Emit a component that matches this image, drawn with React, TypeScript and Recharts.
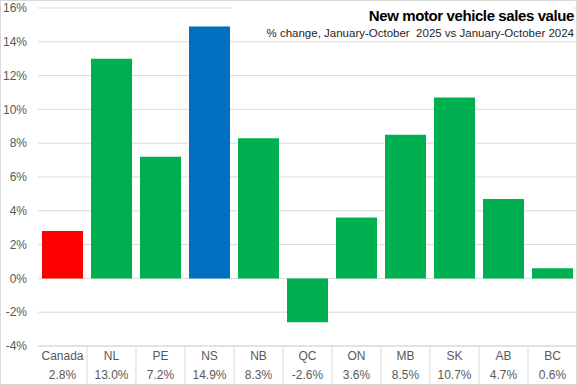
import { BarChart, Bar, XAxis, YAxis, CartesianGrid, Cell } from 'recharts';

// Jan-Oct 2025 vs Jan-Oct 2024, % change in new motor vehicle sales value
const regions = ['Canada', 'NL', 'PE', 'NS', 'NB', 'QC', 'ON', 'MB', 'SK', 'AB', 'BC'];
const changes = [2.8, 13.0, 7.2, 14.9, 8.3, -2.6, 3.6, 8.5, 10.7, 4.7, 0.6];
const yTicks = [-4, -2, 0, 2, 4, 6, 8, 10, 12, 14, 16];

const data = regions.map((region, i) => ({ region, change: changes[i] }));

const barColor = (region: string) => {
  if (region === 'Canada') return '#FF0000';
  if (region === 'NS') return '#0070C0';
  return '#00B050';
};

const labelFont = 'Arial, "Liberation Sans", sans-serif';

const RegionTick = (props: any) => {
  const { x, y, payload, index } = props;
  const value = changes[index];
  return (
    <g>
      <text x={x} y={y + 14} textAnchor="middle" fontSize={12} fill="#595959" fontFamily={labelFont}>
        {payload.value}
      </text>
      <text x={x} y={y + 33} textAnchor="middle" fontSize={12} fill="#595959" fontFamily={labelFont}>
        {value.toFixed(1)}%
      </text>
      <line x1={x + 24.5} x2={x + 24.5} y1={y} y2={y + 40} stroke="#d9d9d9" />
    </g>
  );
};

export default function App() {
  return (
    <div style={{ position: 'absolute', left: 0, top: 0, width: 577, height: 385, background: '#fff' }}>
      <BarChart
        width={577}
        height={385}
        data={data}
        margin={{ top: 8, right: 0, bottom: 0, left: 0 }}
        barCategoryGap={4}
      >
        <CartesianGrid vertical={false} stroke="#d9d9d9" />
        <YAxis
          type="number"
          domain={[-4, 16]}
          ticks={yTicks}
          width={38}
          axisLine={false}
          tickLine={false}
          tickSize={0}
          tickMargin={11}
          tickFormatter={(v: number) => `${v}%`}
          tick={{ fontSize: 12, fill: '#595959', fontFamily: labelFont }}
          interval={0}
        />
        <XAxis
          dataKey="region"
          height={39}
          interval={0}
          axisLine={{ stroke: '#d9d9d9' }}
          tickLine={false}
          tickSize={0}
          tickMargin={0}
          tick={<RegionTick />}
        />
        <Bar dataKey="change" isAnimationActive={false}>
          {data.map((d) => (
            <Cell key={d.region} fill={barColor(d.region)} />
          ))}
        </Bar>
      </BarChart>
      <div
        style={{
          position: 'absolute',
          left: 232,
          top: 6,
          width: 342,
          height: 33,
          background: '#fff',
          textAlign: 'right',
          fontFamily: labelFont,
          color: '#000',
        }}
      >
        <div
          style={{
            fontFamily: '"Liberation Sans Narrow", "Arial Narrow", sans-serif',
            fontWeight: 'bold',
            fontSize: 15,
            lineHeight: '20px',
            letterSpacing: -0.4,
          }}
        >
          New motor vehicle sales value
        </div>
        <div style={{ fontSize: 11.5, lineHeight: '15px', color: '#262626' }}>
          % change, January-October&nbsp; 2025 vs January-October 2024
        </div>
      </div>
      <div
        style={{
          position: 'absolute',
          left: 0,
          top: 0,
          width: 577,
          height: 385,
          boxSizing: 'border-box',
          border: '1px solid #d9d9d9',
          pointerEvents: 'none',
        }}
      />
    </div>
  );
}
